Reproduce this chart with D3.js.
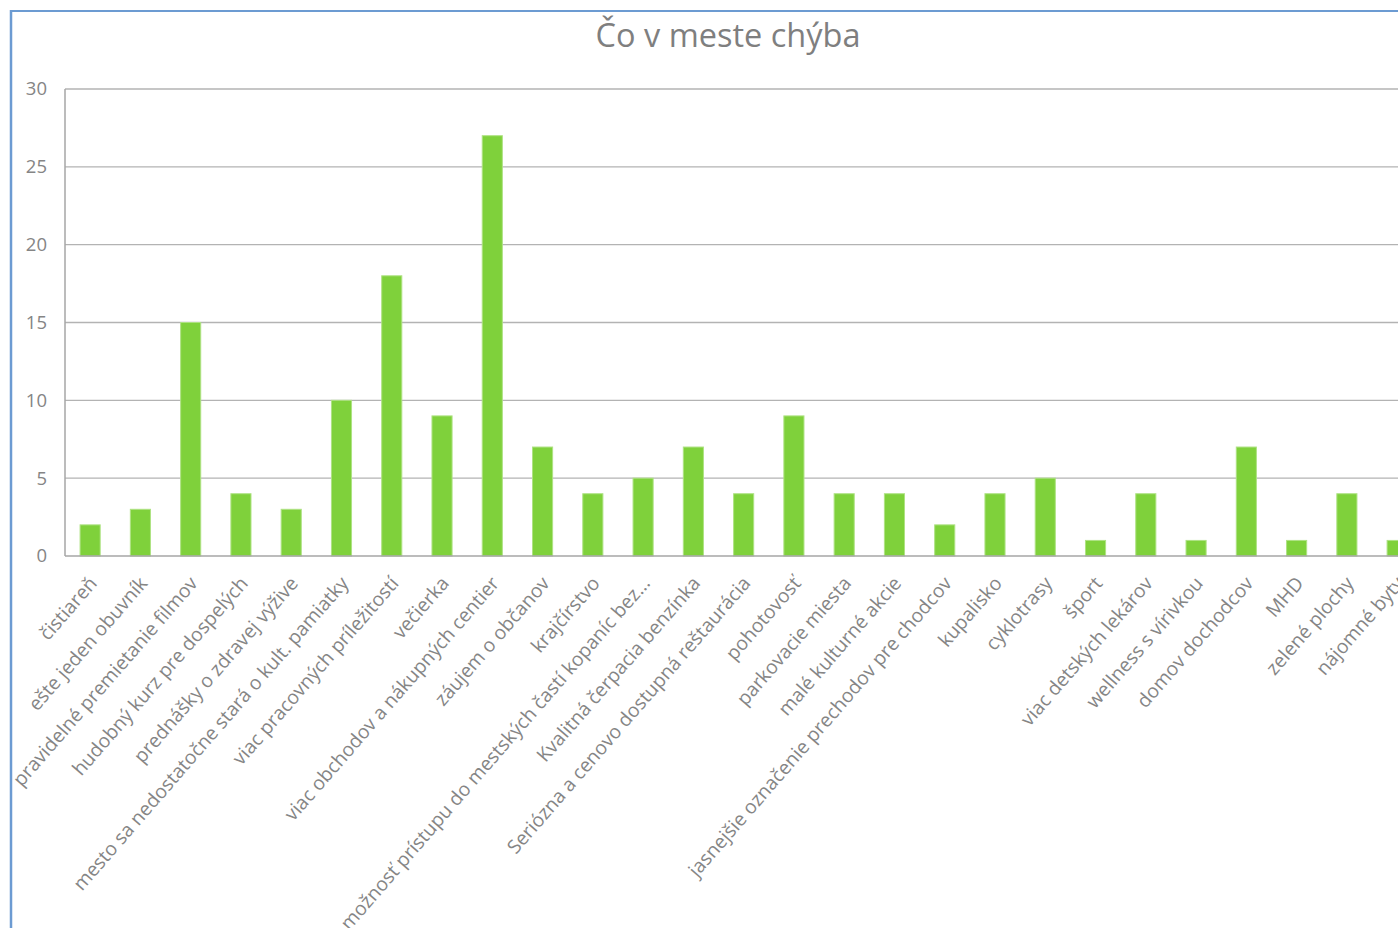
<!DOCTYPE html>
<html lang="sk">
<head>
    <meta charset="utf-8">
    <title>Čo v meste chýba</title>
    <script src="https://d3js.org/d3.v7.min.js"></script>
</head>
<style type="text/css">
    html, body { margin: 0; padding: 0; overflow: hidden; background: #fff; }
    svg text { fill: #858585; font-family: "Open Sans", sans-serif; }
</style>
<body>
<script>
    // what people said is missing in the town
    var categories = [
        "čistiareň", "ešte jeden obuvník", "pravidelné premietanie filmov",
        "hudobný kurz pre dospelých", "prednášky o zdravej výžive",
        "mesto sa nedostatočne stará o kult. pamiatky", "viac pracovných príležitostí",
        "večierka", "viac obchodov a nákupných centier", "záujem o občanov",
        "krajčírstvo", "možnosť prístupu do mestských častí kopaníc bez...",
        "Kvalitná čerpacia benzínka", "Seriózna a cenovo dostupná reštaurácia",
        "pohotovosť", "parkovacie miesta", "malé kulturné akcie",
        "jasnejšie označenie prechodov pre chodcov", "kupalisko", "cyklotrasy",
        "šport", "viac detských lekárov", "wellness s vírivkou", "domov dochodcov",
        "MHD", "zelené plochy", "nájomné byty"
    ];
    var counts = [2, 3, 15, 4, 3, 10, 18, 9, 27, 7, 4, 5, 7, 4, 9, 4, 4, 2, 4, 5, 1, 4, 1, 7, 1, 4, 1];
    var yTicks = [0, 5, 10, 15, 20, 25, 30];
    var title = "Čo v meste chýba";

    var width = 1398, height = 928;
    var plotLeft = 65, plotTop = 89, plotBottom = 556;
    var step = 50.27; // the plot runs past the right edge, like in the picture

    var svg = d3.select("body").append("svg")
        .attr("width", width)
        .attr("height", height);

    // chart frame (only left and top edges show)
    svg.append("line").attr("x1", 11).attr("x2", 11).attr("y1", 10).attr("y2", height)
        .attr("stroke", "#6c9bd2").attr("stroke-width", 2.5);
    svg.append("line").attr("x1", 10).attr("x2", width).attr("y1", 11).attr("y2", 11)
        .attr("stroke", "#6c9bd2").attr("stroke-width", 2);

    svg.append("text")
        .attr("x", 728).attr("y", 47)
        .attr("text-anchor", "middle")
        .style("font-size", "32.5px")
        .style("fill", "#7f7f7f")
        .text(title);

    var x = d3.scaleBand()
        .domain(categories)
        .range([plotLeft, plotLeft + step * categories.length])
        .paddingInner(0.6)
        .paddingOuter(0.3);

    var y = d3.scaleLinear().domain([0, 30]).range([plotBottom, plotTop]);

    // gridlines
    svg.append("g").selectAll("line")
        .data(yTicks.slice(1))
        .enter().append("line")
        .attr("x1", plotLeft).attr("x2", width)
        .attr("y1", function(d){ return y(d); })
        .attr("y2", function(d){ return y(d); })
        .attr("stroke", "#b3b3b3").attr("stroke-width", 1.3);

    // y labels
    svg.append("g").selectAll("text")
        .data(yTicks)
        .enter().append("text")
        .attr("x", 47)
        .attr("y", function(d){ return y(d); })
        .attr("dy", ".35em")
        .attr("text-anchor", "end")
        .style("font-size", "18.5px")
        .text(function(d){ return d; });

    // bars
    svg.append("g").selectAll("rect")
        .data(counts)
        .enter().append("rect")
        .attr("x", function(d, i){ return x(categories[i]); })
        .attr("y", function(d){ return y(d); })
        .attr("width", x.bandwidth())
        .attr("height", function(d){ return plotBottom - y(d); })
        .attr("fill", "#7fd13b")
        .attr("stroke", "#aee283").attr("stroke-width", 1);

    // axes lines
    svg.append("line").attr("x1", plotLeft).attr("x2", plotLeft).attr("y1", plotTop).attr("y2", plotBottom)
        .attr("stroke", "#a6a6a6").attr("stroke-width", 1.5);
    svg.append("line").attr("x1", plotLeft).attr("x2", width).attr("y1", plotBottom).attr("y2", plotBottom)
        .attr("stroke", "#a6a6a6").attr("stroke-width", 1.5);

    // category labels, rotated
    svg.append("g").selectAll("text")
        .data(categories)
        .enter().append("text")
        .attr("transform", function(d){
            var cx = x(d) + x.bandwidth() / 2 + 8;
            return "translate(" + cx + "," + (plotBottom + 28) + ") rotate(-49)";
        })
        .attr("text-anchor", "end")
        .style("font-size", "19.3px")
        .text(function(d){ return d; });
</script>
</body>
</html>
